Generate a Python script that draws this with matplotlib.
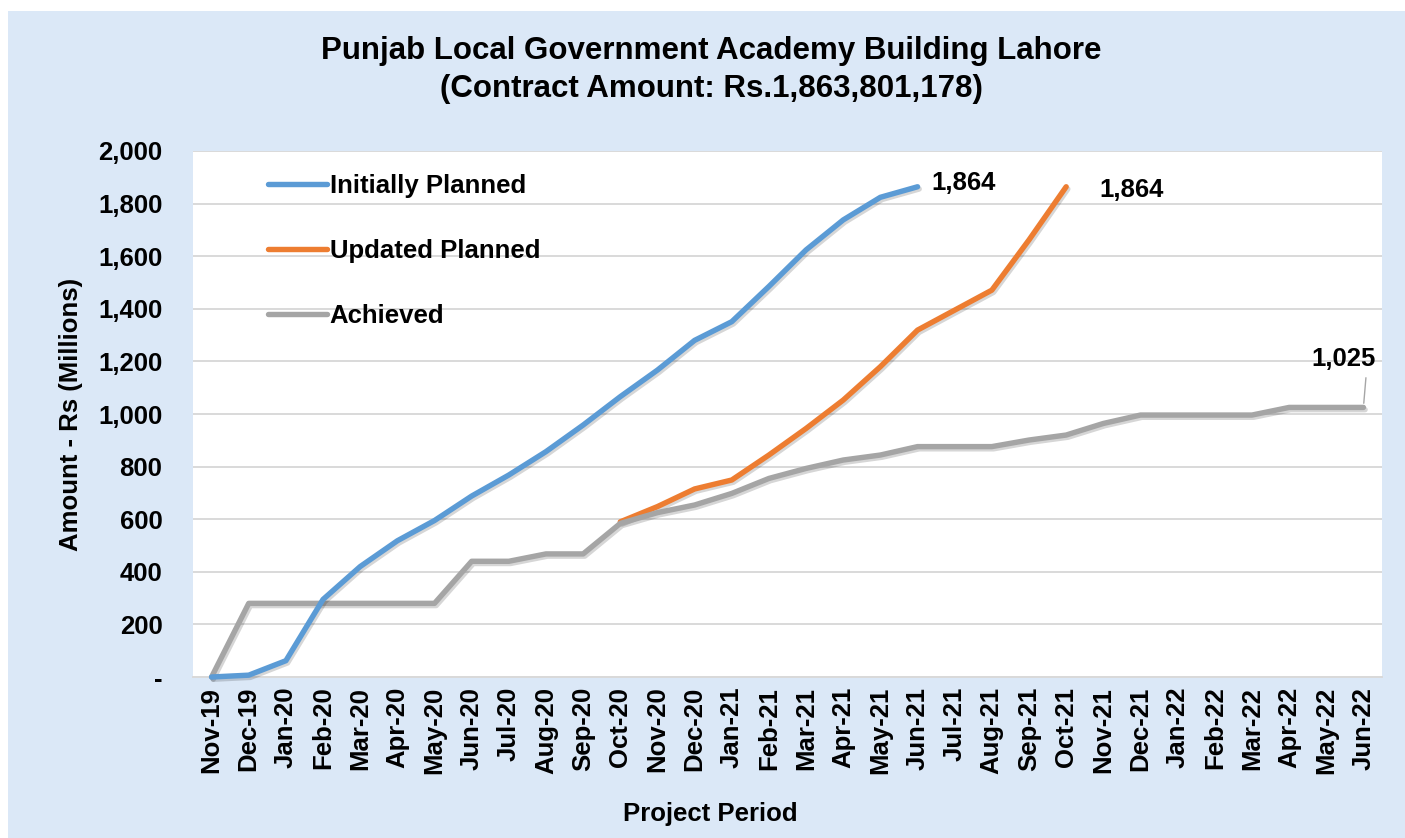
import matplotlib
matplotlib.use("Agg")
import matplotlib.pyplot as plt
import matplotlib.patheffects as pe
from matplotlib.patches import Rectangle
from matplotlib.ticker import FuncFormatter, MultipleLocator
import numpy as np

months = ["Nov-19", "Dec-19", "Jan-20", "Feb-20", "Mar-20", "Apr-20", "May-20", "Jun-20",
          "Jul-20", "Aug-20", "Sep-20", "Oct-20", "Nov-20", "Dec-20", "Jan-21", "Feb-21",
          "Mar-21", "Apr-21", "May-21", "Jun-21", "Jul-21", "Aug-21", "Sep-21", "Oct-21",
          "Nov-21", "Dec-21", "Jan-22", "Feb-22", "Mar-22", "Apr-22", "May-22", "Jun-22"]

initially_planned = [0, 7, 62, 295, 420, 518, 595, 688, 768, 857, 958, 1066, 1167, 1280,
                     1351, 1485, 1624, 1738, 1824, 1864]
updated_planned = [590, 648, 715, 749, 844, 945, 1053, 1180, 1319, 1395, 1471, 1662, 1864]
updated_start = 11  # Oct-20
achieved = [0, 280, 280, 280, 280, 280, 280, 440, 440, 468, 468, 584, 625, 654, 698, 755,
            793, 825, 844, 876, 876, 876, 901, 920, 964, 996, 996, 996, 996, 1025, 1025, 1025]

title = "Punjab Local Government Academy Building Lahore\n(Contract Amount: Rs.1,863,801,178)"

W, H = 1405, 838
fig = plt.figure(figsize=(W / 100, H / 100), dpi=100)
fig.patch.set_facecolor("white")
fig.patches.append(Rectangle((8 / W, 0), 1 - 8 / W, 1 - 11 / H, transform=fig.transFigure,
                             facecolor="#dbe8f7", edgecolor="none", zorder=-10))

ax = fig.add_axes([193 / W, (H - 677) / H, (1382 - 193) / W, (677 - 151) / H])
ax.set_facecolor("white")

FONT = ["Liberation Sans", "DejaVu Sans"]
fs = 18.5

shadow = [pe.SimpleLineShadow(offset=(1.2, -1.6), alpha=0.16, shadow_color="black"), pe.Normal()]
lw = 3.9
c_blue, c_orange, c_gray = "#5b9bd5", "#ed7d31", "#a5a5a5"

x_all = np.arange(len(months))
ax.plot(x_all[:len(initially_planned)], initially_planned, color=c_blue, lw=lw,
        solid_capstyle="round", solid_joinstyle="round", path_effects=shadow,
        label="Initially Planned", clip_on=False, zorder=4)
ax.plot(x_all[updated_start:updated_start + len(updated_planned)], updated_planned,
        color=c_orange, lw=lw, solid_capstyle="round", solid_joinstyle="round",
        path_effects=shadow, label="Updated Planned", clip_on=False, zorder=3)
ax.plot(x_all[:len(achieved)], achieved, color=c_gray, lw=lw, solid_capstyle="round",
        solid_joinstyle="round", path_effects=shadow, label="Achieved", clip_on=False, zorder=3)

ax.set_xlim(-0.5, len(months) - 0.5)
ax.set_ylim(0, 2000)
ax.yaxis.set_major_locator(MultipleLocator(200))
ax.yaxis.set_major_formatter(FuncFormatter(lambda v, p: "-" if v == 0 else f"{int(v):,}"))
ax.set_xticks(x_all)
ax.set_xticklabels(months, rotation=90)
ax.tick_params(axis="both", length=0)
ax.tick_params(axis="y", pad=22)
ax.tick_params(axis="x", pad=7)
for lab in ax.get_xticklabels() + ax.get_yticklabels():
    lab.set_fontfamily(FONT)
    lab.set_fontweight("bold")
    lab.set_fontsize(fs)
ax.grid(axis="y", color="#d9d9d9", lw=1.4)
ax.set_axisbelow(True)
for s in ["top", "right", "left"]:
    ax.spines[s].set_visible(False)
ax.spines["bottom"].set_color("#d9d9d9")
ax.spines["bottom"].set_linewidth(1.4)

ax.set_xlabel("Project Period", fontfamily=FONT, fontweight="bold", fontsize=fs, labelpad=0)
ax.xaxis.set_label_coords((710 - 193) / (1382 - 193), -0.238)
ax.set_ylabel("Amount - Rs (Millions)", fontfamily=FONT, fontweight="bold", fontsize=fs)
ax.yaxis.set_label_coords((83 - 193) / (1382 - 193), 0.5)

fig.text(711 / W, 1 - 70 / H, title, ha="center", va="center", fontsize=22.5,
         fontweight="bold", family=FONT, linespacing=1.38)

leg = ax.legend(loc="upper left", bbox_to_anchor=((245 - 193) / (1382 - 193), 1.0),
                frameon=False, handlelength=2.3, handletextpad=0.1, labelspacing=1.6,
                borderaxespad=0.5, prop={"family": FONT, "weight": "bold", "size": fs})
for h in leg.get_lines():
    h.set_linewidth(lw)
    h.set_solid_capstyle("round")
    h.set_path_effects([])

# data labels
ib = len(initially_planned) - 1
ax.annotate(f"{initially_planned[-1]:,}", (x_all[ib], initially_planned[-1]),
            xytext=(10, 3), textcoords="offset points", ha="left", va="center",
            fontsize=fs, fontweight="bold", family=FONT)
io = updated_start + len(updated_planned) - 1
ax.annotate(f"{updated_planned[-1]:,}", (x_all[io], updated_planned[-1]),
            xytext=(24, -2), textcoords="offset points", ha="left", va="center",
            fontsize=fs, fontweight="bold", family=FONT)
ia = len(achieved) - 1
ax.annotate(f"{achieved[-1]:,}", (x_all[ia], achieved[-1]),
            xytext=(-14, 35), textcoords="offset points", ha="center", va="center",
            fontsize=fs, fontweight="bold", family=FONT,
            arrowprops=dict(arrowstyle="-", color="#a6a6a6", lw=1, shrinkA=3, shrinkB=3,
                            relpos=(0.85, 0.0)))

fig.savefig("out.png", dpi=100)
